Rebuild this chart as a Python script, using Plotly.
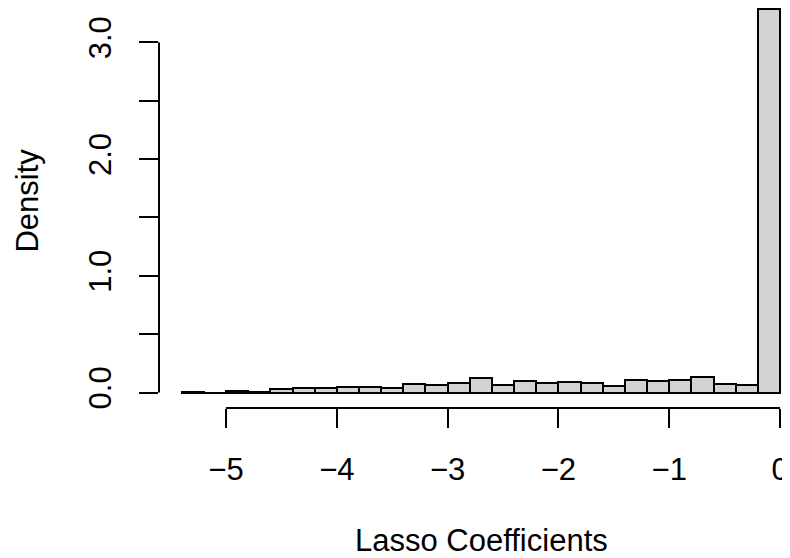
import plotly.graph_objects as go

# Histogram bins (left edges) and density values
bin_left = [-5.4, -5.2, -5.0, -4.8, -4.6, -4.4, -4.2, -4.0, -3.8, -3.6,
            -3.4, -3.2, -3.0, -2.8, -2.6, -2.4, -2.2, -2.0, -1.8, -1.6,
            -1.4, -1.2, -1.0, -0.8, -0.6, -0.4, -0.2]
bin_width = 0.2
density = [0.005, 0.0, 0.017, 0.003, 0.026, 0.037, 0.040, 0.048, 0.051, 0.040,
           0.074, 0.068, 0.080, 0.126, 0.068, 0.097, 0.083, 0.094, 0.083, 0.054,
           0.111, 0.100, 0.111, 0.134, 0.071, 0.068, 3.29]

x_ticks = [-5, -4, -3, -2, -1, 0]
x_tick_text = ["\u22125", "\u22124", "\u22123", "\u22122", "\u22121", "0"]
y_ticks = [0.0, 0.5, 1.0, 1.5, 2.0, 2.5, 3.0]
y_tick_text = ["0.0", "", "1.0", "", "2.0", "", "3.0"]

x_title = "Lasso Coefficients"
y_title = "Density"

FONT = "Liberation Sans, Arial, Helvetica, sans-serif"
FS = 31
LW = 2

centers = [b + bin_width / 2 for b in bin_left]

fig = go.Figure()
fig.add_trace(go.Bar(
    x=centers, y=density, width=bin_width,
    marker=dict(color="#D3D3D3", line=dict(color="black", width=LW)),
    cliponaxis=False, hoverinfo="skip",
))

# R-style axis lines spanning only the tick range
fig.add_shape(type="line", xref="x", yref="paper",
              x0=min(x_ticks), x1=max(x_ticks), y0=0, y1=0,
              line=dict(color="black", width=LW))
fig.add_shape(type="line", xref="paper", yref="y",
              x0=0, x1=0, y0=min(y_ticks), y1=max(y_ticks),
              line=dict(color="black", width=LW))

fig.add_annotation(text=x_title, xref="paper", yref="paper",
                   x=0.511, y=-0.33, xanchor="center", yanchor="middle",
                   showarrow=False, font=dict(family=FONT, size=FS, color="black"))
fig.add_annotation(text=y_title, xref="paper", yref="paper",
                   x=-0.2076, y=0.5185, xanchor="center", yanchor="middle",
                   textangle=-90, showarrow=False,
                   font=dict(family=FONT, size=FS, color="black"))

fig.update_layout(
    width=782, height=550,
    margin=dict(l=151, r=0, t=0, b=150, autoexpand=False),
    paper_bgcolor="white", plot_bgcolor="white",
    showlegend=False, bargap=0,
    font=dict(family=FONT, size=FS, color="black"),
    xaxis=dict(range=[-5.605, 0.090], tickvals=x_ticks, ticktext=x_tick_text,
               ticks="outside", ticklen=19, tickwidth=LW, tickcolor="black",
               showline=False, showgrid=False, zeroline=False,
               ticklabelstandoff=15, fixedrange=True),
    yaxis=dict(range=[-0.1328, 3.295], tickvals=y_ticks, ticktext=y_tick_text,
               ticks="outside", ticklen=19, tickwidth=LW, tickcolor="black",
               showline=False, showgrid=False, zeroline=False,
               tickangle=-90, ticklabelstandoff=16, fixedrange=True),
)

fig.write_html("out.html")
